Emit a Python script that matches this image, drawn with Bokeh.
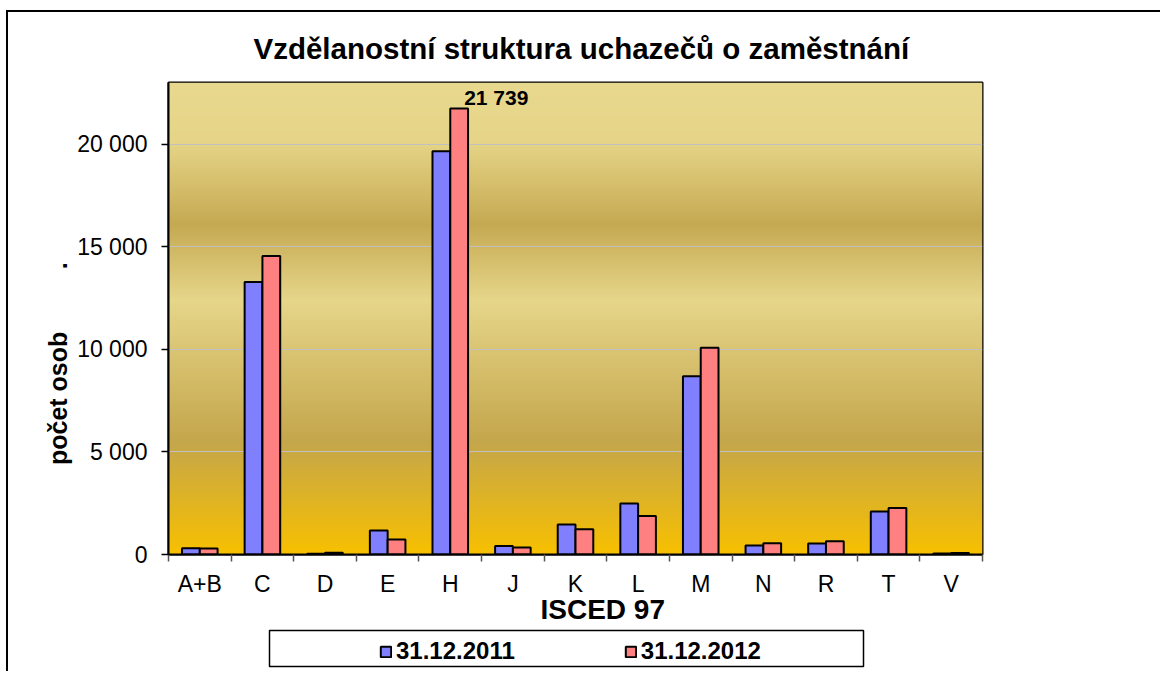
import numpy as np
from bokeh.plotting import figure
from bokeh.layouts import column
from bokeh.models import (ColumnDataSource, FixedTicker, Legend, LegendItem, Range1d, Title)
from bokeh.transform import dodge
from bokeh.core.properties import value
from bokeh.embed import file_html
from bokeh.resources import INLINE

# ---------------- data ----------------
categories = ["A+B", "C", "D", "E", "H", "J", "K", "L", "M", "N", "R", "T", "V"]
series_names = ["31.12.2011", "31.12.2012"]
values_2011 = [300, 13280, 40, 1170, 19650, 420, 1460, 2480, 8690, 440, 535, 2100, 50]
values_2012 = [290, 14540, 80, 730, 21739, 340, 1230, 1880, 10080, 550, 645, 2270, 70]
y_ticks = [0, 5000, 10000, 15000, 20000]
y_tick_labels = ["0", "5 000", "10 000", "15 000", "20 000"]
title_text = "Vzdělanostní struktura uchazečů o zaměstnání"
x_title = "ISCED 97"
y_title = "počet osob"

FONT = "Liberation Sans"
NB = "\u00a0"
Y_MAX = 23000
colors = ["#8080ff", "#ff8080"]
n = len(categories)
idx = np.arange(n)

# canvas origin on the page (margin + border)
OX, OY = 8, 12
W, H = 1154, 618
FL, FR, FT, FB = 168 - OX, 982 - OX, 81 - OY, 554 - OY   # frame edges in canvas px

p = figure(width=W, height=H, output_backend="svg", toolbar_location=None,
           x_range=Range1d(-0.5, n - 0.5), y_range=Range1d(0, Y_MAX),
           min_border_left=FL, min_border_right=W - FR,
           min_border_top=FT, min_border_bottom=H - FB)
p.margin = (OY - 2, 0, 0, OX - 2)
p.styles = {"border-left": "2px solid #000", "border-top": "2px solid #000"}
p.background_fill_color = "white"
p.border_fill_color = "white"
p.outline_line_color = "black"
p.outline_line_width = 2

# ---------------- title ----------------
p.title = Title(text=title_text, align="left", offset=85, text_font=FONT,
                text_font_size="29.5px", text_font_style="bold",
                text_color="black", standoff=35)

# ---------------- gradient background ----------------
grad_pos = [0.0, 0.24, 0.54, 0.70, 0.875, 1.0]          # fraction from bottom
grad_col = ["#f8c000", "#c4a64c", "#e6d68a", "#c5a952", "#e6d588", "#e8d88e"]
rows = 473
f = (np.arange(rows) + 0.5) / rows
rgb = np.array([[int(c[i:i + 2], 16) for i in (1, 3, 5)] for c in grad_col], float)
img = np.zeros((rows, 1), dtype=np.uint32)
view = img.view(dtype=np.uint8).reshape((rows, 1, 4))
for k in range(3):
    view[:, 0, k] = np.interp(f, grad_pos, rgb[:, k]).round().astype(np.uint8)
view[:, 0, 3] = 255
p.image_rgba(image=[img], x=-0.5, y=0, dw=n, dh=Y_MAX, level="image")

# ---------------- bars ----------------
src = ColumnDataSource(dict(x=idx, cat=categories, v2011=values_2011, v2012=values_2012))
bw = 0.284
r1 = p.vbar(x=dodge("x", -bw / 2, range=p.x_range), top="v2011", width=bw, source=src,
            fill_color=colors[0], line_color="black", line_width=2)
r2 = p.vbar(x=dodge("x", bw / 2, range=p.x_range), top="v2012", width=bw, source=src,
            fill_color=colors[1], line_color="black", line_width=2)

# data label for the maximum
imax = int(np.argmax(values_2012))
lab_src = ColumnDataSource(dict(x=[idx[imax] + bw / 2], y=[values_2012[imax]],
                                t=[f"{values_2012[imax]:,}".replace(",", " ")]))
p.text(x="x", y="y", text="t", source=lab_src, text_font=value(FONT),
       text_font_size="21px", text_font_style="bold", text_color="black",
       text_align="left", text_baseline="alphabetic", x_offset=5, y_offset=-11)

# ---------------- axes ----------------
p.yaxis.ticker = FixedTicker(ticks=y_ticks)
p.yaxis.major_label_overrides = dict(zip(y_ticks, y_tick_labels))
p.yaxis.major_label_text_font = FONT
p.yaxis.major_label_text_font_size = "23px"
p.yaxis.major_label_text_color = "black"
p.yaxis.major_tick_out = 7
p.yaxis.major_tick_in = 0
p.yaxis.major_tick_line_color = "black"
p.yaxis.major_tick_line_width = 1.5
p.yaxis.major_label_standoff = 14
p.yaxis.axis_line_color = "black"
p.yaxis.axis_line_width = 2
p.yaxis.minor_tick_line_color = None
p.yaxis.axis_label = y_title + NB * 9 + "." + NB * 13
p.yaxis.axis_label_text_font = FONT
p.yaxis.axis_label_text_font_size = "25px"
p.yaxis.axis_label_text_font_style = "bold"
p.yaxis.axis_label_text_color = "black"
p.yaxis.axis_label_standoff = 2

bounds = (np.arange(n + 1) - 0.5).tolist()
p.xaxis.ticker = FixedTicker(ticks=idx.tolist(), minor_ticks=bounds)
p.xaxis.major_label_overrides = {int(i): c for i, c in zip(idx, categories)}
p.xaxis.major_label_text_font = FONT
p.xaxis.major_label_text_font_size = "23px"
p.xaxis.major_label_text_color = "black"
p.xaxis.major_tick_line_color = None
p.xaxis.major_tick_out = 0
p.xaxis.major_tick_in = 0
p.xaxis.minor_tick_out = 7
p.xaxis.minor_tick_in = 0
p.xaxis.minor_tick_line_color = "#555555"
p.xaxis.minor_tick_line_width = 1.5
p.xaxis.major_label_standoff = 9
p.xaxis.axis_line_color = "black"
p.xaxis.axis_line_width = 2
p.xaxis.axis_label = NB * 7 + x_title
p.xaxis.axis_label_text_font = FONT
p.xaxis.axis_label_text_font_size = "28px"
p.xaxis.axis_label_text_font_style = "bold"
p.xaxis.axis_label_text_color = "black"
p.xaxis.axis_label_standoff = -6

p.xgrid.visible = False
p.ygrid.grid_line_color = "#c0c0c0"
p.ygrid.grid_line_width = 1

# ---------------- legend (own strip under the chart, frame aligned with chart) ----------------
H2F = 42                                   # strip frame height (px), page y 630..672
H2 = H2F + 1
p2 = figure(width=W, height=H2, output_backend="svg", toolbar_location=None,
            x_axis_type=None, y_axis_type=None,
            x_range=Range1d(0, FR - FL), y_range=Range1d(0, H2F),
            min_border_left=FL, min_border_right=W - FR,
            min_border_top=0, min_border_bottom=H2 - H2F)
p2.margin = (0, 0, 0, OX - 2)
p2.styles = {"border-left": "2px solid #000"}
p2.background_fill_color = "white"
p2.border_fill_color = "white"
p2.outline_line_color = None
# legend key glyphs: a single tiny bar each, hidden beneath the legend box drawn next
k1 = p2.vbar(x=[300], bottom=[20], top=[20.01], width=0.01,
             fill_color=colors[0], line_color="black", line_width=2)
k2 = p2.vbar(x=[300], bottom=[20], top=[20.01], width=0.01,
             fill_color=colors[1], line_color="black", line_width=2)
# legend frame box (page x 269..863, y 632..668)
p2.quad(left=[269 - 168], right=[863 - 168], bottom=[672 - 668], top=[672 - 632],
        fill_color="white", line_color="black", line_width=1.5)
legend = Legend(items=[LegendItem(label=series_names[0], renderers=[k1]),
                       LegendItem(label=series_names[1], renderers=[k2])],
                orientation="horizontal", location=(379 - 168, 5),
                glyph_width=13, glyph_height=13, label_standoff=4, spacing=109,
                padding=0, margin=0, border_line_color=None, background_fill_alpha=0,
                label_text_font=FONT, label_text_font_size="24px",
                label_text_font_style="bold", label_text_color="black")
p2.add_layout(legend, "center")

layout = column(p, p2, spacing=0)
open("out.html", "w").write(file_html(layout, INLINE))
